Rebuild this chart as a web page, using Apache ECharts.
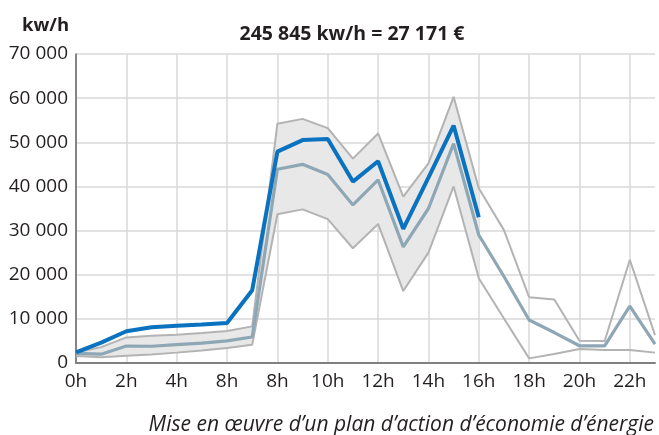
<!DOCTYPE html>
<html><head><meta charset="utf-8">
<script src="https://cdn.jsdelivr.net/npm/echarts@6/dist/echarts.min.js"></script>
<style>html,body{margin:0;padding:0;background:#fff}#c{width:659px;height:435px}</style>
</head><body><div id="c"></div>
<script>
const hours = ["0h","1h","2h","3h","4h","5h","6h","7h","8h","9h","10h","11h","12h","13h","14h","15h","16h","17h","18h","19h","20h","21h","22h","23h"];
const tickLabels = ["0h","","2h","","4h","","8h","","8h","","10h","","12h","","14h","","16h","","18h","","20h","","22h",""];
const yTicks = [0,10000,20000,30000,40000,50000,60000,70000];
const actual = [2400,4600,7200,8100,8450,8700,9050,16500,47900,50500,50750,41100,45700,30400,42000,53800,33000];
const median = [2200,2000,3850,3800,4150,4500,5000,5900,43900,45000,42700,35800,41500,26300,35000,49700,29000,19600,9750,6900,3900,3900,12900,4300];
const upper = [2400,3600,5800,6200,6400,6800,7250,8300,54200,55300,53200,46300,52000,37700,45200,60300,39600,30100,14900,14400,5050,5000,23400,6300];
const lower = [1600,1300,1650,1950,2350,2850,3400,4150,33700,34800,32600,26000,31500,16300,25000,40000,19200,10100,1050,2050,3150,2950,2950,2350];
const bandEnd = 16;
const titleText = "245 845 kw/h = 27 171 €";
const unitText = "kw/h";
const footText = "Mise en œuvre d’un plan d’action d’économie d’énergie";

const bandBase = lower.map((v,i)=> i<=bandEnd ? v : '-');
const bandDiff = upper.map((v,i)=> i<=bandEnd ? v - lower[i] : '-');
const fmt = v => String(v).replace(/\B(?=(\d{3})+(?!\d))/g, ' ');
const FONT = "Open Sans";

const chart = echarts.init(document.getElementById('c'), null, {renderer:'canvas'});
chart.setOption({
  animation:false,
  backgroundColor:'#fff',
  textStyle:{fontFamily:FONT},
  title:[
    {text:unitText,left:17,top:11,textStyle:{fontFamily:FONT,fontSize:18.5,fontWeight:'bold',color:'#231f20'}},
    {text:titleText,left:347,textAlign:'center',top:19,textStyle:{fontFamily:FONT,fontSize:19.5,fontWeight:'bold',color:'#231f20'}},
    {text:footText,right:0,top:410,textStyle:{fontFamily:FONT,fontSize:21,fontStyle:'italic',fontWeight:'normal',color:'#231f20'}}
  ],
  grid:{left:76,right:4,top:54,bottom:72,containLabel:false},
  xAxis:{
    type:'category',data:hours,boundaryGap:false,
    axisLine:{show:true,lineStyle:{color:'#808080',width:2}},
    axisTick:{show:false},
    axisLabel:{interval:0,fontSize:19,color:'#231f20',margin:9,formatter:(v,i)=>tickLabels[i]},
    splitLine:{show:true,interval:(i)=>i%2===0,lineStyle:{color:'#d9d9d9',width:1.5}}
  },
  yAxis:{
    type:'value',min:yTicks[0],max:yTicks[yTicks.length-1],interval:yTicks[1]-yTicks[0],
    axisLine:{show:true,lineStyle:{color:'#666',width:1.5}},
    axisTick:{show:false},
    axisLabel:{fontSize:19,color:'#231f20',margin:8,formatter:v=>fmt(v)},
    splitLine:{show:true,lineStyle:{color:'#d9d9d9',width:1.5}}
  },
  series:[
    {type:'line',data:bandBase,stack:'band',symbol:'none',lineStyle:{opacity:0},areaStyle:{opacity:0},z:1},
    {type:'line',data:bandDiff,stack:'band',symbol:'none',lineStyle:{opacity:0},areaStyle:{color:'#e8e8e8',opacity:1},z:1},
    {type:'line',data:upper,symbol:'none',lineStyle:{color:'#b3b3b3',width:2},z:2},
    {type:'line',data:lower,symbol:'none',lineStyle:{color:'#b3b3b3',width:2},z:2},
    {type:'line',data:median,symbol:'none',lineStyle:{color:'#8ea7b5',width:3.2},z:3},
    {type:'line',data:actual,symbol:'none',lineStyle:{color:'#0a72bf',width:4},z:4}
  ]
});
</script></body></html>
